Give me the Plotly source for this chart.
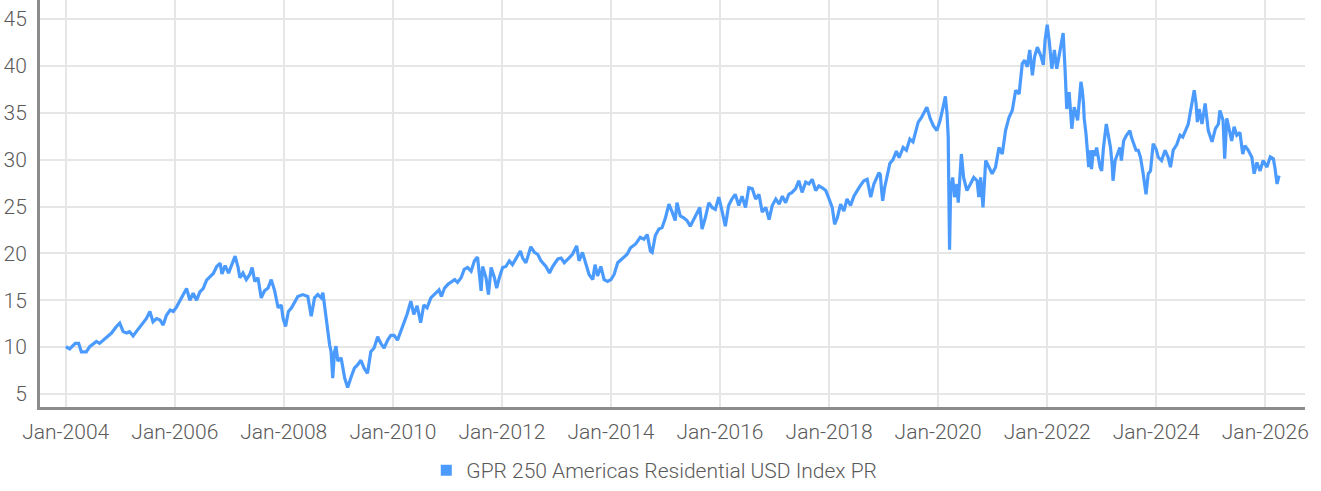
import plotly.graph_objects as go

SERIES_NAME = "GPR 250 Americas Residential USD Index PR"

DATES = [
    "2004-01-02", "2004-01-28", "2004-03-05", "2004-03-28", "2004-04-15", "2004-05-18", "2004-06-10",
    "2004-07-25", "2004-08-15", "2004-09-07", "2004-10-01", "2004-11-03", "2004-12-06", "2004-12-28",
    "2005-01-20", "2005-02-12", "2005-03-04", "2005-03-28", "2005-04-18", "2005-05-22", "2005-06-25",
    "2005-07-18", "2005-08-08", "2005-09-01", "2005-09-24", "2005-10-15", "2005-11-06", "2005-12-01",
    "2005-12-22", "2006-01-13", "2006-02-18", "2006-03-21", "2006-04-12", "2006-05-04", "2006-05-27",
    "2006-06-18", "2006-07-10", "2006-08-02", "2006-08-24", "2006-09-16", "2006-10-09", "2006-11-01",
    "2006-11-13", "2006-12-04", "2006-12-27", "2007-01-18", "2007-02-09", "2007-03-01", "2007-03-13",
    "2007-04-03", "2007-04-25", "2007-05-18", "2007-06-03", "2007-06-21", "2007-07-12", "2007-08-03",
    "2007-08-25", "2007-09-18", "2007-10-09", "2007-11-01", "2007-11-24", "2007-12-15", "2007-12-27",
    "2008-01-13", "2008-02-01", "2008-02-22", "2008-03-13", "2008-04-04", "2008-05-07", "2008-06-10",
    "2008-07-03", "2008-07-25", "2008-08-16", "2008-09-08", "2008-09-19", "2008-10-04", "2008-10-22",
    "2008-11-03", "2008-11-13", "2008-11-24", "2008-12-06", "2008-12-16", "2008-12-28", "2009-01-19",
    "2009-02-12", "2009-03-04", "2009-03-25", "2009-04-18", "2009-05-09", "2009-06-01", "2009-06-22",
    "2009-07-15", "2009-08-06", "2009-08-28", "2009-09-21", "2009-10-12", "2009-11-03", "2009-11-27",
    "2009-12-18", "2010-01-09", "2010-02-01", "2010-02-24", "2010-03-15", "2010-04-06", "2010-05-01",
    "2010-05-21", "2010-06-12", "2010-07-06", "2010-07-27", "2010-08-18", "2010-09-12", "2010-10-03",
    "2010-11-06", "2010-11-22", "2010-12-13", "2011-01-05", "2011-01-27", "2011-02-19", "2011-03-10",
    "2011-04-03", "2011-04-24", "2011-05-16", "2011-06-09", "2011-07-01", "2011-07-22", "2011-08-04",
    "2011-08-15", "2011-08-25", "2011-09-17", "2011-10-03", "2011-10-21", "2011-11-12", "2011-11-27",
    "2011-12-15", "2012-01-06", "2012-01-28", "2012-02-20", "2012-03-12", "2012-04-04", "2012-05-04",
    "2012-05-19", "2012-06-10", "2012-07-13", "2012-08-06", "2012-08-28", "2012-09-19", "2012-10-22",
    "2012-11-15", "2012-12-06", "2013-01-10", "2013-02-01", "2013-02-22", "2013-03-25", "2013-04-18",
    "2013-05-16", "2013-06-01", "2013-06-24", "2013-07-16", "2013-08-07", "2013-09-01", "2013-09-16",
    "2013-10-03", "2013-10-25", "2013-11-16", "2013-12-09", "2014-01-01", "2014-01-22", "2014-02-15",
    "2014-03-18", "2014-04-19", "2014-05-12", "2014-06-15", "2014-07-16", "2014-08-09", "2014-09-01",
    "2014-09-22", "2014-10-04", "2014-10-25", "2014-11-18", "2014-12-09", "2015-01-01", "2015-01-24",
    "2015-02-15", "2015-03-07", "2015-03-19", "2015-04-10", "2015-05-03", "2015-05-25", "2015-06-16",
    "2015-07-09", "2015-08-01", "2015-08-19", "2015-09-03", "2015-09-25", "2015-10-18", "2015-11-09",
    "2015-12-01", "2015-12-24", "2016-01-15", "2016-02-06", "2016-02-28", "2016-03-21", "2016-04-12",
    "2016-05-06", "2016-05-28", "2016-06-20", "2016-07-12", "2016-08-04", "2016-08-27", "2016-09-18",
    "2016-10-10", "2016-11-03", "2016-11-25", "2016-12-16", "2017-01-09", "2017-02-01", "2017-02-22",
    "2017-03-16", "2017-04-06", "2017-04-28", "2017-05-22", "2017-06-12", "2017-07-04", "2017-07-28",
    "2017-08-19", "2017-09-10", "2017-10-03", "2017-10-25", "2017-11-16", "2017-12-10", "2018-01-01",
    "2018-01-22", "2018-02-07", "2018-02-25", "2018-03-19", "2018-04-10", "2018-05-01", "2018-05-25",
    "2018-06-16", "2018-07-07", "2018-07-28", "2018-08-22", "2018-09-13", "2018-10-07", "2018-10-28",
    "2018-12-01", "2018-12-10", "2018-12-20", "2018-12-26", "2019-01-08", "2019-01-25", "2019-02-12",
    "2019-03-05", "2019-03-28", "2019-04-15", "2019-05-12", "2019-06-03", "2019-06-26", "2019-07-17",
    "2019-08-06", "2019-08-21", "2019-09-12", "2019-10-18", "2019-11-09", "2019-12-01", "2019-12-24",
    "2020-01-15", "2020-02-09", "2020-02-19", "2020-03-01", "2020-03-09", "2020-03-12", "2020-03-18",
    "2020-03-25", "2020-04-08", "2020-04-20", "2020-05-06", "2020-05-15", "2020-06-05", "2020-06-20",
    "2020-07-12", "2020-08-05", "2020-08-27", "2020-09-18", "2020-09-30", "2020-10-12", "2020-10-28",
    "2020-11-15", "2020-12-06", "2020-12-28", "2021-01-20", "2021-02-12", "2021-03-06", "2021-03-28",
    "2021-04-20", "2021-05-12", "2021-06-04", "2021-06-27", "2021-07-18", "2021-08-03", "2021-08-21",
    "2021-09-06", "2021-09-24", "2021-10-09", "2021-10-27", "2021-11-21", "2021-12-06", "2021-12-18",
    "2022-01-01", "2022-01-15", "2022-02-01", "2022-02-18", "2022-03-06", "2022-03-22", "2022-04-03",
    "2022-04-18", "2022-05-01", "2022-05-12", "2022-05-28", "2022-06-15", "2022-07-01", "2022-07-24",
    "2022-08-15", "2022-08-24", "2022-09-01", "2022-09-06", "2022-09-18", "2022-09-28", "2022-10-06",
    "2022-10-15", "2022-10-25", "2022-11-06", "2022-11-18", "2022-11-28", "2022-12-09", "2022-12-21",
    "2023-01-01", "2023-01-13", "2023-02-01", "2023-02-15", "2023-03-01", "2023-03-12", "2023-03-18",
    "2023-04-01", "2023-04-22", "2023-05-03", "2023-05-13", "2023-05-28", "2023-06-16", "2023-07-09",
    "2023-07-19", "2023-08-06", "2023-08-19", "2023-09-03", "2023-09-18", "2023-10-06", "2023-10-25",
    "2023-11-09", "2023-11-24", "2023-12-12", "2024-01-01", "2024-01-15", "2024-02-06", "2024-03-01",
    "2024-03-21", "2024-04-06", "2024-04-24", "2024-05-18", "2024-06-09", "2024-06-27", "2024-07-18",
    "2024-08-03", "2024-08-15", "2024-08-27", "2024-09-12", "2024-09-24", "2024-10-03", "2024-10-15",
    "2024-11-03", "2024-11-24", "2024-12-15", "2025-01-09", "2025-02-01", "2025-02-21", "2025-03-03",
    "2025-03-24", "2025-04-04", "2025-04-18", "2025-05-06", "2025-05-21", "2025-06-06", "2025-06-24",
    "2025-07-15", "2025-08-03", "2025-08-18", "2025-09-09", "2025-10-03", "2025-10-18", "2025-11-06",
    "2025-11-27", "2025-12-18", "2026-01-12", "2026-02-03", "2026-02-24", "2026-03-06", "2026-03-21",
    "2026-04-03",
]

VALUES = [
    10.05, 9.8, 10.4, 10.4, 9.5, 9.5, 10.05,
    10.6, 10.4, 10.75, 11.1, 11.5, 12.2, 12.55,
    11.65, 11.5, 11.65, 11.2, 11.65, 12.35, 13.05,
    13.8, 12.7, 13.05, 12.9, 12.35, 13.4, 13.95,
    13.8, 14.3, 15.4, 16.25, 15.0, 15.75, 15.0,
    15.9, 16.25, 17.15, 17.5, 17.85, 18.6, 18.95,
    17.8, 18.7, 17.9, 18.9, 19.7, 18.5, 17.4,
    17.9, 17.2, 17.75, 18.5, 17.0, 17.4, 15.25,
    16.0, 16.3, 17.2, 16.0, 14.2, 14.5, 13.1,
    12.2, 13.8, 14.2, 14.7, 15.4, 15.6, 15.4,
    13.3, 15.25, 15.6, 15.25, 15.8, 13.8, 11.7,
    10.25, 9.5, 6.7, 9.5, 10.1, 8.5, 8.85,
    6.7, 5.7, 6.7, 7.75, 8.1, 8.6, 7.75,
    7.2, 9.5, 9.9, 11.1, 10.4, 9.9, 10.75,
    11.25, 11.25, 10.75, 11.7, 12.6, 13.5, 14.9,
    13.5, 14.4, 12.6, 14.5, 14.2, 15.25, 15.6,
    16.1, 15.4, 16.3, 16.7, 16.9, 17.2, 16.9,
    17.4, 18.3, 18.5, 18.1, 19.2, 19.6, 17.75,
    16.0, 18.6, 17.4, 15.6, 18.5, 17.4, 16.3,
    17.4, 18.5, 18.6, 19.2, 18.8, 19.5, 20.25,
    19.5, 19.0, 20.7, 20.1, 19.9, 19.2, 18.6,
    17.9, 18.6, 19.4, 19.5, 19.0, 19.5, 19.9,
    20.8, 19.2, 20.1, 19.0, 17.75, 17.2, 18.8,
    17.6, 18.6, 17.2, 17.0, 17.2, 17.75, 19.0,
    19.5, 19.9, 20.6, 21.0, 21.7, 21.5, 22.0,
    20.25, 20.1, 21.9, 22.6, 22.75, 23.8, 25.25,
    24.4, 23.5, 25.4, 24.0, 23.8, 23.5, 22.9,
    23.6, 24.2, 24.9, 22.6, 23.8, 25.4, 24.9,
    24.7, 26.0, 24.5, 22.9, 25.1, 25.8, 26.3,
    25.1, 26.1, 24.9, 27.0, 26.9, 25.8, 26.3,
    24.4, 24.9, 23.6, 25.1, 25.8, 25.25, 26.1,
    25.4, 26.3, 26.5, 26.9, 27.75, 26.5, 27.6,
    27.4, 27.9, 26.7, 27.2, 27.0, 26.7, 25.8,
    24.9, 23.1, 23.8, 25.25, 24.5, 25.8, 25.1,
    26.1, 26.7, 27.2, 27.75, 27.9, 26.0, 27.4,
    28.6, 28.4, 26.5, 25.6, 27.0, 28.3, 29.6,
    30.0, 30.9, 30.2, 31.3, 31.0, 32.2, 31.9,
    33.1, 34.0, 34.5, 35.6, 34.4, 33.6, 33.1,
    34.2, 36.0, 36.75, 34.9, 32.4, 28.1, 20.4,
    26.7, 28.1, 26.0, 27.4, 25.4, 30.6, 28.1,
    26.7, 27.4, 28.1, 27.75, 26.0, 28.1, 24.9,
    29.9, 29.2, 28.5, 29.2, 31.3, 30.6, 33.1,
    34.5, 35.25, 37.4, 37.0, 40.25, 40.6, 39.9,
    41.7, 39.0, 41.0, 42.0, 41.0, 40.1, 42.75,
    44.4, 42.6, 39.7, 41.7, 39.7, 41.3, 42.4,
    43.5, 39.5, 35.4, 37.2, 33.3, 35.6, 34.2,
    38.3, 37.4, 36.0, 34.4, 32.75, 31.0, 29.2,
    31.0, 29.0, 31.0, 30.4, 31.3, 30.25, 29.2,
    28.8, 31.3, 33.8, 32.75, 31.3, 29.5, 27.75,
    29.9, 31.0, 31.3, 29.9, 32.0, 32.6, 33.1,
    32.4, 31.7, 31.0, 31.0, 30.25, 28.5, 26.3,
    28.5, 28.8, 31.7, 31.1, 30.25, 29.9, 31.0,
    30.25, 29.2, 31.0, 31.6, 32.6, 32.4, 33.3,
    33.8, 34.9, 36.0, 37.4, 36.0, 34.0, 35.4,
    33.8, 36.0, 33.1, 31.9, 33.3, 33.8, 35.25,
    34.2, 30.1, 34.4, 33.1, 32.0, 33.5, 32.6,
    32.9, 30.6, 31.5, 31.0, 30.25, 28.5, 29.7,
    28.8, 29.9, 29.2, 30.3, 30.1, 29.2, 27.4,
    28.3,
]

Y_TICKS = [5, 10, 15, 20, 25, 30, 35, 40, 45]

LINE_COLOR = "#4b9bff"
TEXT_COLOR = "#5a5a5a"
FONT = "Roboto, sans-serif"
TICK_FONT = dict(family=FONT, size=21, color=TEXT_COLOR, weight=300)

fig = go.Figure()
fig.add_trace(go.Scatter(
    x=DATES, y=VALUES, mode="lines",
    line=dict(color=LINE_COLOR, width=3.2),
    showlegend=False, hoverinfo="x+y",
))
fig.add_trace(go.Scatter(
    x=[None], y=[None], mode="markers", name=SERIES_NAME,
    marker=dict(symbol="square", size=11, color=LINE_COLOR),
    showlegend=True,
))

fig.update_layout(
    width=1321, height=491,
    margin=dict(l=40, r=16, t=0, b=84),
    paper_bgcolor="white", plot_bgcolor="white",
    font=dict(family=FONT, size=21, color=TEXT_COLOR, weight=300),
    legend=dict(
        orientation="h", x=0.4856, xanchor="center", y=-0.2064, yanchor="bottom",
        font=dict(family=FONT, size=21, color=TEXT_COLOR, weight=300),
        bgcolor="rgba(0,0,0,0)",
    ),
    xaxis=dict(
        type="date",
        range=["2003-07-13", "2026-09-24"],
        tick0="2004-01-01", dtick="M24", tickformat="%b-%Y",
        showgrid=True, gridcolor="#e6e6e6", gridwidth=2,
        showline=True, linecolor="#8c8c8c", linewidth=3,
        ticks="", ticklabelstandoff=4, zeroline=False,
        automargin=False, tickfont=TICK_FONT,
    ),
    yaxis=dict(
        range=[3.61, 47.03],
        tickvals=Y_TICKS,
        showgrid=True, gridcolor="#e6e6e6", gridwidth=2,
        showline=True, linecolor="#8c8c8c", linewidth=3,
        ticks="", ticklabelstandoff=6, zeroline=False,
        automargin=False, tickfont=TICK_FONT,
    ),
)

fig.write_html(
    "out.html",
    config={"displayModeBar": False},
    post_script="document.body.style.margin='0';",
)
